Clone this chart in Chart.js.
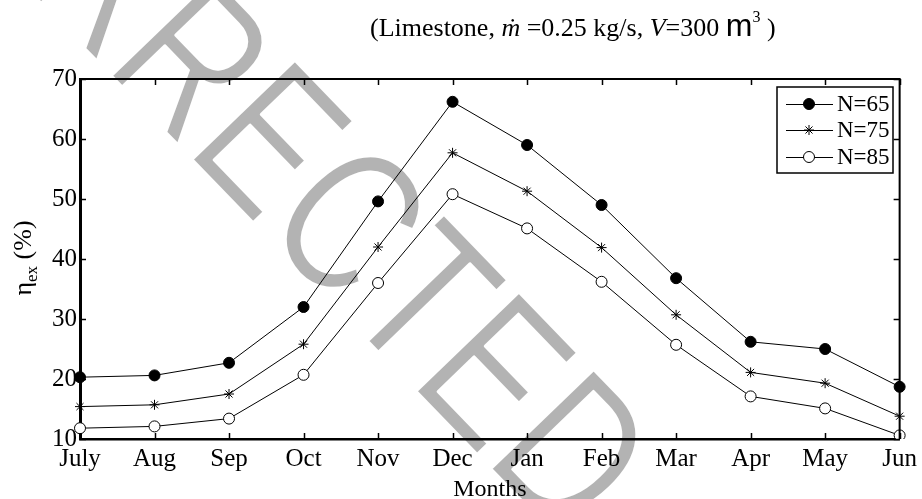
<!DOCTYPE html>
<html>
<head>
<meta charset="utf-8">
<script src="https://cdn.jsdelivr.net/npm/chart.js@4/dist/chart.umd.min.js"></script>
<style>
  html, body { margin: 0; padding: 0; background: #fff; }
  #wrap { width: 922px; height: 499px; position: relative; }
</style>
</head>
<body>
<div id="wrap"><canvas id="effChart" width="922" height="499"></canvas></div>
<script>
const months = ['July', 'Aug', 'Sep', 'Oct', 'Nov', 'Dec', 'Jan', 'Feb', 'Mar', 'Apr', 'May', 'Jun'];
const n65 = [20.3, 20.6, 22.7, 32.0, 49.6, 66.2, 59.0, 49.0, 36.8, 26.2, 25.0, 18.7];
const n75 = [15.4, 15.7, 17.5, 25.8, 42.0, 57.7, 51.3, 41.9, 30.7, 21.1, 19.3, 13.8];
const n85 = [11.8, 12.1, 13.4, 20.7, 36.0, 50.8, 45.1, 36.2, 25.7, 17.1, 15.1, 10.6];
const yTicks = [10, 20, 30, 40, 50, 60, 70];
const seriesNames = ['N=65', 'N=75', 'N=85'];

const SERIF = '"Liberation Serif", "Times New Roman", serif';
const SANS = '"Liberation Sans", Arial, sans-serif';

// grey stamp across the whole figure, under everything else
const stampPlugin = {
    id: 'stamp',
    beforeDraw(chart) {
        const ctx = chart.ctx;
        ctx.save();
        ctx.translate(208, 176);
        ctx.rotate(46 * Math.PI / 180);
        ctx.scale(0.775, 1);
        ctx.font = '208px ' + SANS;
        ctx.fillStyle = '#b3b3b3';
        ctx.textAlign = 'center';
        ctx.textBaseline = 'alphabetic';
        ctx.fillText('CORRECTED', 0, 0);
        // thin the strokes a little
        ctx.strokeStyle = '#fff';
        ctx.lineWidth = 3;
        ctx.lineJoin = 'round';
        ctx.strokeText('CORRECTED', 0, 0);
        ctx.restore();
    }
};

// frame, inward ticks, titles and legend box
const framePlugin = {
    id: 'frame',
    afterDraw(chart) {
        const ctx = chart.ctx;
        const a = chart.chartArea;
        const xs = chart.scales.x;
        const ys = chart.scales.y;
        ctx.save();

        ctx.strokeStyle = '#000';
        ctx.lineWidth = 2;
        ctx.beginPath();
        ctx.moveTo(a.left, a.top); ctx.lineTo(a.right, a.top); ctx.lineTo(a.right, a.bottom);
        ctx.stroke();

        const tl = 6;
        ctx.lineWidth = 1.5;
        ctx.beginPath();
        xs.ticks.forEach((t, i) => {
            const px = Math.round(xs.getPixelForTick(i)) + 0.5;
            ctx.moveTo(px, a.bottom); ctx.lineTo(px, a.bottom - tl);
            ctx.moveTo(px, a.top); ctx.lineTo(px, a.top + tl);
        });
        yTicks.forEach(v => {
            const py = Math.round(ys.getPixelForValue(v)) + 0.5;
            ctx.moveTo(a.left, py); ctx.lineTo(a.left + tl, py);
            ctx.moveTo(a.right, py); ctx.lineTo(a.right - tl, py);
        });
        ctx.stroke();

        // title: (Limestone, m-dot = 0.25 kg/s, V=300 m^3 )
        ctx.fillStyle = '#000';
        ctx.textBaseline = 'alphabetic';
        ctx.textAlign = 'left';
        let x = 370;
        const by = 36;
        const piece = (txt, font, dy) => {
            ctx.font = font;
            ctx.fillText(txt, x, by + (dy || 0));
            x += ctx.measureText(txt).width;
        };
        piece('(Limestone, ', '26px ' + SERIF);
        piece('\u1E41', 'italic 26px ' + SERIF);
        piece(' =0.25 kg/s, ', '26px ' + SERIF);
        piece('V', 'italic 26px ' + SERIF);
        piece('=300 ', '26px ' + SERIF);
        piece('m', '32px ' + SANS);
        piece('3', '16px ' + SERIF, -14);
        piece(' )', '26px ' + SERIF);

        // x axis title
        ctx.font = '24px ' + SERIF;
        ctx.textAlign = 'center';
        ctx.fillText('Months', (a.left + a.right) / 2, 496);

        // y axis title
        ctx.save();
        ctx.translate(31, 258);
        ctx.rotate(-Math.PI / 2);
        ctx.textAlign = 'left';
        const parts = [['\u03B7', '26px ' + SERIF, 0], ['ex', '17px ' + SERIF, 6], [' (%)', '26px ' + SERIF, 0]];
        let total = 0;
        parts.forEach(p => { ctx.font = p[1]; total += ctx.measureText(p[0]).width; });
        let lx = -total / 2;
        parts.forEach(p => {
            ctx.font = p[1];
            ctx.fillText(p[0], lx, p[2]);
            lx += ctx.measureText(p[0]).width;
        });
        ctx.restore();

        // legend
        ctx.fillStyle = '#fff';
        ctx.fillRect(777, 87, 116, 86);
        ctx.lineWidth = 1.5;
        ctx.strokeRect(777, 87, 116, 86);
        const rows = [104, 130, 157];
        chart.data.datasets.forEach((ds, i) => {
            const ry = rows[i];
            ctx.lineWidth = 1;
            ctx.strokeStyle = '#000';
            ctx.beginPath();
            ctx.moveTo(786, ry + 0.5); ctx.lineTo(833, ry + 0.5);
            ctx.stroke();
            ctx.fillStyle = ds.pointBackgroundColor;
            ctx.strokeStyle = ds.pointBorderColor;
            ctx.lineWidth = ds.pointBorderWidth;
            Chart.helpers.drawPoint(ctx, {
                pointStyle: ds.pointStyle, radius: ds.pointRadius, borderWidth: ds.pointBorderWidth, rotation: 0
            }, 809, ry);
            ctx.fillStyle = '#000';
            ctx.font = '23px ' + SERIF;
            ctx.textAlign = 'left';
            ctx.textBaseline = 'middle';
            ctx.fillText(ds.label, 837, ry + 1);
        });
        ctx.restore();
    }
};

function makeSet(label, values, style, fill, radius) {
    return {
        label: label,
        data: values,
        borderColor: '#000',
        borderWidth: 1,
        tension: 0,
        fill: false,
        pointStyle: style,
        pointRadius: radius,
        pointHoverRadius: radius,
        pointBackgroundColor: fill,
        pointBorderColor: '#000',
        pointBorderWidth: 1
    };
}

window.onload = () => {
    const ctx = document.getElementById('effChart').getContext('2d');
    new Chart(ctx, {
        type: 'line',
        data: {
            labels: months,
            datasets: [
                makeSet(seriesNames[0], n65, 'circle', '#000', 5.5),
                makeSet(seriesNames[1], n75, 'star', '#000', 5),
                makeSet(seriesNames[2], n85, 'circle', '#fff', 5.5)
            ]
        },
        options: {
            responsive: false,
            animation: false,
            layout: { padding: { top: 79, right: 22, left: 0, bottom: 0 } },
            plugins: { legend: { display: false }, tooltip: { enabled: false } },
            scales: {
                x: {
                    offset: false,
                    grid: { drawOnChartArea: false, drawTicks: false },
                    border: { color: '#000', width: 2.5 },
                    ticks: { color: '#000', font: { family: SERIF, size: 25 }, padding: 5, maxRotation: 0, autoSkip: false },
                    afterFit: s => { s.height = 60; }
                },
                y: {
                    min: yTicks[0],
                    max: yTicks[yTicks.length - 1],
                    grid: { drawOnChartArea: false, drawTicks: false },
                    border: { color: '#000', width: 3 },
                    ticks: { color: '#000', font: { family: SERIF, size: 25 }, padding: 3, stepSize: 10 },
                    afterFit: s => { s.width = 80; }
                }
            }
        },
        plugins: [stampPlugin, framePlugin]
    });
};
</script>
</body>
</html>
